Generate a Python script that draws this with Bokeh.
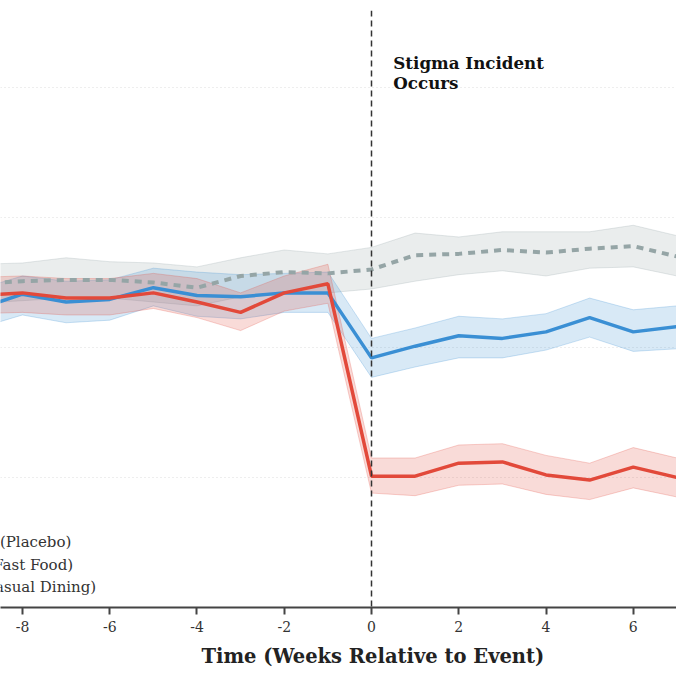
from bokeh.plotting import figure
from bokeh.models import Span, Label, FixedTicker, ColumnDataSource, Title
from bokeh.embed import file_html
from bokeh.resources import INLINE

# ---- data ----
weeks = [-9, -8, -7, -6, -5, -4, -3, -2, -1, 0, 1, 2, 3, 4, 5, 6, 7]

placebo_mean = [4.49, 4.51, 4.52, 4.52, 4.50, 4.46, 4.55, 4.58, 4.57, 4.60, 4.71, 4.72, 4.75, 4.73, 4.76, 4.78, 4.70]
placebo_upper = [4.64, 4.65, 4.69, 4.66, 4.65, 4.62, 4.69, 4.75, 4.72, 4.77, 4.88, 4.85, 4.89, 4.89, 4.89, 4.94, 4.86]
placebo_lower = [4.34, 4.36, 4.38, 4.38, 4.35, 4.32, 4.39, 4.43, 4.42, 4.45, 4.51, 4.56, 4.59, 4.55, 4.61, 4.62, 4.55]

casual_mean = [4.30, 4.41, 4.35, 4.37, 4.46, 4.40, 4.39, 4.42, 4.42, 3.92, 4.01, 4.09, 4.07, 4.12, 4.23, 4.12, 4.16]
casual_upper = [4.45, 4.55, 4.51, 4.52, 4.61, 4.58, 4.56, 4.57, 4.58, 4.07, 4.15, 4.24, 4.22, 4.26, 4.38, 4.29, 4.32]
casual_lower = [4.15, 4.25, 4.19, 4.21, 4.32, 4.24, 4.22, 4.27, 4.27, 3.77, 3.85, 3.92, 3.92, 3.98, 4.08, 3.97, 3.99]

fast_mean = [4.40, 4.42, 4.38, 4.38, 4.42, 4.35, 4.27, 4.42, 4.49, 3.01, 3.01, 3.11, 3.12, 3.02, 2.98, 3.08, 3.00]
fast_upper = [4.54, 4.55, 4.53, 4.53, 4.57, 4.53, 4.42, 4.55, 4.64, 3.15, 3.15, 3.25, 3.26, 3.17, 3.11, 3.23, 3.15]
fast_lower = [4.26, 4.27, 4.25, 4.25, 4.30, 4.23, 4.13, 4.28, 4.34, 2.88, 2.86, 2.94, 2.95, 2.87, 2.83, 2.92, 2.85]

legend_labels = ["Control (Placebo)", "Brand A (Fast Food)", "Brand B (Casual Dining)"]
x_ticks = [-8, -6, -4, -2, 0, 2, 4, 6]
x_tick_labels = ["-8", "-6", "-4", "-2", "0", "2", "4", "6"]
y_ticks = [2, 3, 4, 5, 6]
event_label_lines = ["Stigma Incident", "Occurs"]
x_title = "Time (Weeks Relative to Event)"

SERIF = "DejaVu Serif"
GRAY, BLUE, RED = "#95a5a6", "#3a8fd4", "#e2493a"

src = ColumnDataSource(dict(
    x=weeks,
    pm=placebo_mean, pu=placebo_upper, pl=placebo_lower,
    cm=casual_mean, cu=casual_upper, cl=casual_lower,
    fm=fast_mean, fu=fast_upper, fl=fast_lower,
))

p = figure(width=676, height=676, output_backend="svg", toolbar_location=None,
           x_range=(-8.504, 6.991), y_range=(2.0, 6.592),
           min_border_left=0, min_border_right=0, min_border_top=10, min_border_bottom=69)

p.outline_line_color = None
p.background_fill_color = "white"
p.border_fill_color = "white"

# grids
p.xgrid.visible = False
p.ygrid.ticker = FixedTicker(ticks=y_ticks)
p.ygrid.grid_line_color = "#dcdcdc"
p.ygrid.grid_line_dash = "1 3"
p.ygrid.grid_line_width = 1

# axes
p.yaxis.visible = False
xa = p.xaxis[0]
xa.ticker = FixedTicker(ticks=x_ticks)
xa.major_label_overrides = {t: s for t, s in zip(x_ticks, x_tick_labels)}
xa.axis_line_color = "#444444"
xa.axis_line_width = 2
xa.major_tick_line_color = "#444444"
xa.major_tick_line_width = 2
xa.major_tick_in = 0
xa.major_tick_out = 7
xa.minor_tick_line_color = None
xa.major_label_text_font = SERIF
xa.major_label_text_font_size = "14px"
xa.major_label_text_color = "#333333"
xa.major_label_standoff = 6

# x-axis title, placed as in the reference (centred on the event week)
p.add_layout(Title(text=x_title, align="left", offset=201, text_font=SERIF,
                   text_font_style="bold", text_font_size="19.5px",
                   text_color="#222222", standoff=16), "below")

# bands
for lo, hi, col in [("pl", "pu", GRAY), ("cl", "cu", BLUE), ("fl", "fu", RED)]:
    p.varea(x="x", y1=lo, y2=hi, source=src, fill_color=col, fill_alpha=0.2)
    p.line(x="x", y=lo, source=src, line_color=col, line_alpha=0.25, line_width=1)
    p.line(x="x", y=hi, source=src, line_color=col, line_alpha=0.25, line_width=1)

# lines
p.line(x="x", y="pm", source=src, line_color=GRAY, line_width=4, line_dash="7 6")
p.line(x="x", y="cm", source=src, line_color=BLUE, line_width=3.5)
p.line(x="x", y="fm", source=src, line_color=RED, line_width=3.5)

# event line
p.add_layout(Span(location=0, dimension="height", line_color="#333333",
                  line_width=1.5, line_dash="6 4"))

for txt, yb in zip(event_label_lines, [2 + (607 - 62.5) / 130, 2 + (607 - 83) / 130]):
    p.add_layout(Label(x=0.5, y=yb, text=txt, text_font=SERIF,
                       text_font_style="bold", text_font_size="16.7px",
                       text_color="#111111", text_baseline="alphabetic", text_align="left"))

# legend-like labels (left part clipped by canvas edge)
for lab, xe, ye in zip(legend_labels, [-6.88, -6.84, -6.31], [2.50, 2.33, 2.16]):
    p.add_layout(Label(x=xe, y=ye, text=lab, text_font=SERIF, text_font_size="15px",
                       text_color="#333333", text_align="right", text_baseline="middle"))

open("out.html", "w").write(file_html(p, INLINE))
